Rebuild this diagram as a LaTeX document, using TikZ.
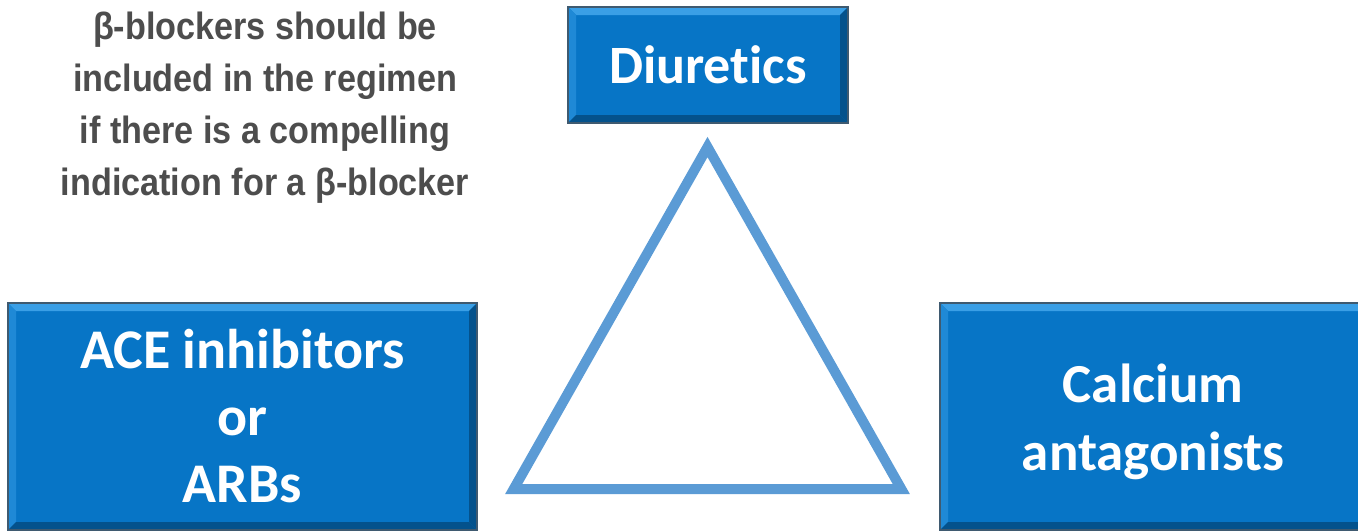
\documentclass[tikz,border=0pt]{standalone}
\usepackage{fontspec}
\setmainfont{Carlito}[Ligatures=NoCommon]
\newfontfamily\notefont[FakeStretch=0.9]{Liberation Sans}
\definecolor{boxblue}{HTML}{0775C6}
\definecolor{bevlight}{HTML}{3A9FE6}
\definecolor{bevside}{HTML}{1F89D6}
\definecolor{bevdark}{HTML}{04528C}
\definecolor{bevrim}{HTML}{3F5A70}
\definecolor{triblue}{HTML}{5B9BD5}
\definecolor{notegray}{HTML}{4D4D4D}
\tikzset{
  bevelbox/.style={
    rectangle, inner sep=0pt, fill=boxblue, draw=bevrim, line width=0.6pt,
    text=white, font=\bfseries, align=center,
    path picture={
      \def\b{4pt}
      \fill[bevlight] (path picture bounding box.north west) -- (path picture bounding box.north east)
        -- ([shift={(-\b,-\b)}]path picture bounding box.north east) -- ([shift={(\b,-\b)}]path picture bounding box.north west) -- cycle;
      \fill[bevside] (path picture bounding box.north west) -- ([shift={(\b,-\b)}]path picture bounding box.north west)
        -- ([shift={(\b,\b)}]path picture bounding box.south west) -- (path picture bounding box.south west) -- cycle;
      \fill[bevdark] (path picture bounding box.north east) -- (path picture bounding box.south east)
        -- ([shift={(-\b,\b)}]path picture bounding box.south east) -- ([shift={(-\b,-\b)}]path picture bounding box.north east) -- cycle;
      \fill[bevdark] (path picture bounding box.south west) -- (path picture bounding box.south east)
        -- ([shift={(-\b,\b)}]path picture bounding box.south east) -- ([shift={(\b,\b)}]path picture bounding box.south west) -- cycle;
    }},
  tri/.style={draw=triblue, line width=5pt, line join=miter},
  note/.style={text=notegray, align=center, font=\notefont\bfseries\fontsize{19}{26}\selectfont}
}
\begin{document}
\begin{tikzpicture}[x=0.5pt, y=-0.5pt]
  \useasboundingbox (0,0) rectangle (1358,531);

  % drug class boxes
  \node[bevelbox, minimum width=140pt, minimum height=58pt,
        font=\bfseries\fontsize{27}{30}\selectfont] (diur) at (708,65) {Diuretics};
  \node[bevelbox, minimum width=234.5pt, minimum height=113.5pt,
        font=\bfseries\fontsize{28}{33.5}\selectfont] (ace) at (242.5,416.5) {ACE inhibitors\\or\\ARBs};
  \node[bevelbox, minimum width=213pt, minimum height=113.5pt,
        font=\bfseries\fontsize{27.5}{34}\selectfont] (calc) at (1153,416.5) {\rule{0pt}{24.5pt}Calcium\\antagonists};

  % combination triangle
  \coordinate (ta) at (707.5,147);
  \coordinate (tr) at (901.3,489);
  \coordinate (tl) at (513.7,489);
  \draw[tri] (ta) -- (tr) -- (tl) -- cycle;

  % beta-blocker note
  \node[note] (beta) at (265,108) {β-blockers should be\\included in the regimen\\if there is a compelling\\indication for a β-blocker};
\end{tikzpicture}
\end{document}
